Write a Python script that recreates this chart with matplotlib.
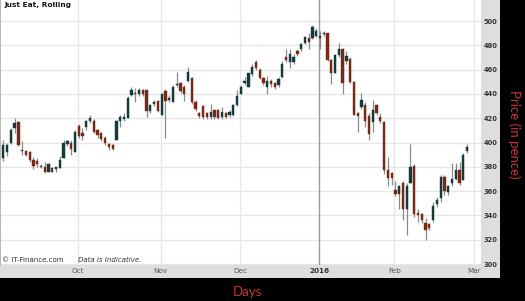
import numpy as np
import pandas as pd
import matplotlib
matplotlib.use("Agg")
import matplotlib.pyplot as plt
from matplotlib.patches import Rectangle

# ---------------- data ----------------
start_date = "2015-09-03"
end_date = "2016-02-26"
holidays = ["2015-12-25", "2015-12-28", "2016-01-01"]

opens = [387, 392, 400, 412, 417, 394, 393, 392, 386, 385, 381, 380, 376, 379, 378, 379, 387, 399, 400, 392,
         414, 407.5, 413, 418, 418, 410, 408, 404, 399, 398, 402, 418, 419, 420, 439, 441, 440, 443, 443, 426,
         432, 434, 423, 442, 435, 433, 447, 449, 446, 451, 453, 433, 424, 430, 424, 421, 427, 427, 421, 424,
         423, 423, 431, 440, 449, 446, 456, 466, 460, 453, 446, 451, 449, 447, 454, 470, 466, 466, 475, 477,
         482, 486, 486, 488, 488, 489, 490, 468, 457, 472, 477, 467, 469, 450, 424, 429, 431, 422, 417, 431,
         421, 417, 377, 375, 361, 358, 367, 345, 367, 381, 342, 341, 334, 333, 336, 349, 354, 372, 359, 367,
         370, 377, 369, 393]
highs = [402, 400, 412, 420, 418, 401, 394, 393, 388, 387, 382, 384, 383, 380, 380, 389, 402, 402, 402, 410,
         415, 411.7, 418.5, 423, 419, 411, 409, 405, 400, 399, 418.5, 423, 424, 438, 446, 444.7, 445, 444, 443.5, 432,
         435, 435, 441, 444, 439, 447, 458, 450, 447, 462, 454, 435, 425, 431, 425, 432, 428, 428, 429, 425,
         427, 432, 443, 447.5, 454, 457.5, 465, 468, 461, 454, 455, 452, 450, 454, 467, 477, 477, 473, 477, 482,
         488, 490, 496.5, 494, 492, 492, 490, 469, 473, 482, 478, 475, 470, 451, 425, 441, 433, 424, 435, 432,
         424, 418, 388, 376, 368, 365, 368, 367, 399, 382, 345, 342, 338, 334, 351, 355, 373, 373, 365, 383,
         383, 384, 391, 399]
lows = [385, 389, 399, 408, 397, 390, 389, 384, 378, 380, 379, 375, 376, 376, 376, 379, 387, 397, 390, 392,
        404, 402, 410, 416, 408, 404, 401, 398, 394, 394, 402, 413, 418, 420, 438, 433.7, 438, 438, 421, 424,
        430, 425, 423, 404, 433, 433, 446, 441, 434, 450, 432, 425.8, 420, 419, 419, 419, 419, 419, 419, 420,
        421, 422, 430, 440, 447, 446, 455, 460, 452, 447, 440, 446, 444, 446, 453, 466, 461, 465, 471, 475,
        481, 477, 485, 487, 477, 488, 467, 448, 457, 470, 440, 465, 449, 423, 409, 428, 413, 402, 409, 423,
        416, 374, 364, 365, 356, 345, 336, 324, 367, 339, 335, 334, 320, 328, 335, 347, 351, 357, 357, 364,
        369, 365, 369, 391]
closes = [398, 398, 410, 416, 398, 393, 390, 386, 381, 382, 380, 376, 382, 376, 380, 386, 400, 401, 395, 409,
          405, 405, 418, 420, 409, 406, 403, 400, 396, 395, 418, 421, 421, 437, 443, 440, 443, 440, 426, 431,
          433, 426, 440, 434, 437, 446, 448, 442, 440, 458, 433, 428, 422, 421, 421, 425, 421, 420, 425, 421,
          425, 431, 438, 446, 451, 457, 462, 461, 453, 449, 451, 448, 446, 452, 465, 468, 473, 470, 473, 481,
          487, 483, 495, 492, 486, 490, 468, 457, 472, 477, 449, 471, 450, 423, 422, 435, 418, 407, 427, 424,
          418, 377, 371, 371, 358, 364, 345, 364, 380, 341, 340, 336, 328, 330, 348, 353, 372, 360, 364, 370,
          377, 367, 390, 396]

y_ticks = [300, 320, 340, 360, 380, 400, 420, 440, 460, 480, 500]
month_labels = ["Oct", "Nov", "Dec", "2016", "Feb", "Mar"]
month_starts = ["2015-10-01", "2015-11-01", "2015-12-01", "2016-01-01", "2016-02-01", "2016-03-01"]

# ---------------- build ----------------
days = pd.bdate_range(start_date, "2016-03-04")
days = days[~days.isin(pd.to_datetime(holidays))]
trade_days = days[days <= pd.Timestamp(end_date)]
x = np.arange(len(trade_days))
o = np.array(opens, float); h = np.array(highs, float)
l = np.array(lows, float); c = np.array(closes, float)

tick_pos = []
for ms in month_starts:
    idx = int(np.searchsorted(days.values, np.datetime64(pd.Timestamp(ms))))
    tick_pos.append(idx - 0.25)

W, H = 525, 301
fig = plt.figure(figsize=(W / 100, H / 100), dpi=100, facecolor="black")
panel = Rectangle((0, 1 - 278 / H), 500 / W, 278 / H, transform=fig.transFigure,
                  facecolor="#dedede", edgecolor="none", zorder=-10)
fig.patches.append(panel)
ax = fig.add_axes([0, 1 - 265 / H, 481 / W, 265 / H])
ax.set_zorder(5)
ax.set_facecolor("white")

ax.set_xlim(-0.875, 126.7)
ax.set_ylim(299.2, 517.3)

for yt in y_ticks:
    ax.axhline(yt, color="#e6e6e6", lw=1.0, zorder=1)
for lab, tp in zip(month_labels, tick_pos):
    ax.axvline(tp, color="#999999" if lab == "2016" else "#e6e6e6", lw=1.0, zorder=1)

ax.vlines(x, l, h, color="#8a8a8a", lw=0.9, zorder=2)
up = c >= o
col = np.where(up, "#123b3f", "#7a2814")
bottoms = np.minimum(o, c)
heights = np.maximum(np.abs(c - o), 0.8)
ax.bar(x, heights, bottom=bottoms, width=0.6, color=col, edgecolor=col, lw=0.3, zorder=3)

ax.yaxis.tick_right()
ax.set_yticks(y_ticks)
ax.set_yticklabels([str(v) for v in y_ticks], fontsize=4.8, fontweight="bold", color="#333333")
ax.tick_params(axis="y", length=0, pad=2)
ax.set_xticks(tick_pos)
ax.set_xticklabels(month_labels, fontsize=5.2, color="#555555")
for t in ax.get_xticklabels():
    if t.get_text() == "2016":
        t.set_fontweight("bold")
        t.set_color("#333333")
ax.tick_params(axis="x", length=0, pad=2.5)
for s in ["top", "right", "bottom"]:
    ax.spines[s].set_visible(False)
ax.spines["left"].set_color("#aaaaaa")
ax.spines["left"].set_linewidth(1.2)

ax.text(4 / 481, 1 - 2 / 265, "Just Eat, Rolling", fontsize=5.3, fontweight="bold", color="#111111",
        ha="left", va="top", transform=ax.transAxes)
ax.text(2 / 481, 1.5 / 265, "\u00a9 IT-Finance.com", fontsize=5, color="#333333", ha="left",
        va="bottom", transform=ax.transAxes)
ax.text(78 / 481, 1.5 / 265, "Data is Indicative.", fontsize=5, color="#333333", style="italic",
        ha="left", va="bottom", transform=ax.transAxes)

fig.text(247 / W, 1 - 292 / H, "Days", fontsize=9.5, color="#cf3426", ha="center", va="center",
         family=["Lato", "DejaVu Sans"])
fig.text(514 / W, 1 - 134 / H, "Price (in pence)", fontsize=9.5, color="#cf3426", ha="center", va="center",
         rotation=270, family=["Lato", "DejaVu Sans"])

fig.savefig("out.png", dpi=100, facecolor="black")
